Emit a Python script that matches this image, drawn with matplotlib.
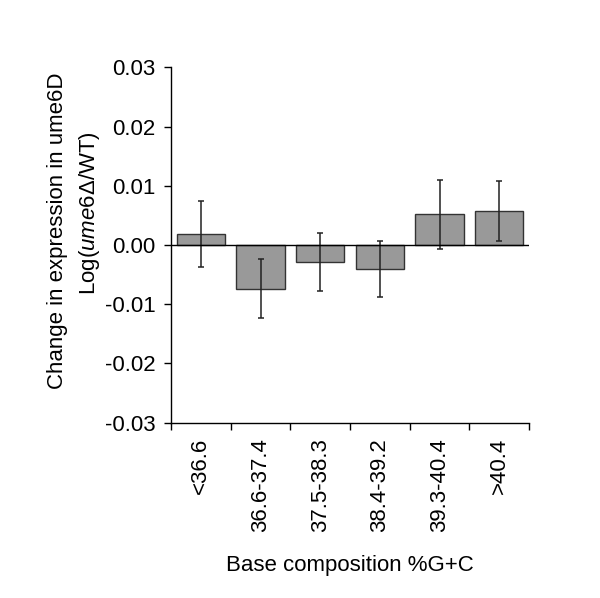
import matplotlib
matplotlib.use("Agg")
import matplotlib.pyplot as plt
import numpy as np

categories = ["<36.6", "36.6-37.4", "37.5-38.3", "38.4-39.2", "39.3-40.4", ">40.4"]
values = [0.0018, -0.0074, -0.0028, -0.0040, 0.0052, 0.0057]
errors = [0.0056, 0.0050, 0.0049, 0.0047, 0.0058, 0.0051]
yticks = [-0.03, -0.02, -0.01, 0.00, 0.01, 0.02, 0.03]
ylabel_lines = ["Change in expression in ume6D", r"Log($\mathit{ume6}$Δ/WT)"]

plt.rcParams['font.family'] = ['Liberation Sans', 'DejaVu Sans']
plt.rcParams['mathtext.fontset'] = 'custom'
plt.rcParams['mathtext.rm'] = 'Liberation Sans'
plt.rcParams['mathtext.it'] = 'Liberation Sans:italic'

FS = 16
W, H = 600, 598
fig = plt.figure(figsize=(W / 100, H / 100), dpi=100)
ax = fig.add_axes([0.285, 0.2932, 0.5967, 0.5943])

x = np.arange(len(categories))
ax.bar(x, values, width=0.81, color="#999999", edgecolor="#333333", linewidth=1.0, zorder=2)
ax.errorbar(x, values, yerr=errors, fmt='none', ecolor="#222222", elinewidth=1.1,
            capsize=2.5, capthick=1.1, zorder=3)
ax.axhline(0, color="black", linewidth=1.0, zorder=4)

ax.set_xlim(-0.5, len(categories) - 0.5)
ax.set_ylim(-0.03, 0.03)
ax.set_yticks(yticks)
ax.set_yticklabels([f"{v:.2f}" for v in yticks], fontsize=FS)
ax.set_xticks(x)
ax.set_xticklabels(categories, rotation=90, fontsize=FS, va='top')
ax.set_xticks(np.arange(len(categories) + 1) - 0.5, minor=True)
ax.tick_params(axis='x', which='major', length=0, pad=11)
ax.tick_params(axis='x', which='minor', length=5, width=1, direction='out')
ax.tick_params(axis='y', length=5, width=1, direction='out', pad=6)

for s in ['top', 'right']:
    ax.spines[s].set_visible(False)
for s in ['left', 'bottom']:
    ax.spines[s].set_linewidth(1.0)

fig.text(57 / W, 1 - 231 / H, ylabel_lines[0], rotation=90, ha='center', va='center', fontsize=FS)
fig.text(89 / W, 1 - 213 / H, ylabel_lines[1], rotation=90, ha='center', va='center', fontsize=FS)
ax.set_xlabel("Base composition %G+C", fontsize=FS, labelpad=17)

fig.savefig("out.png", dpi=100)
